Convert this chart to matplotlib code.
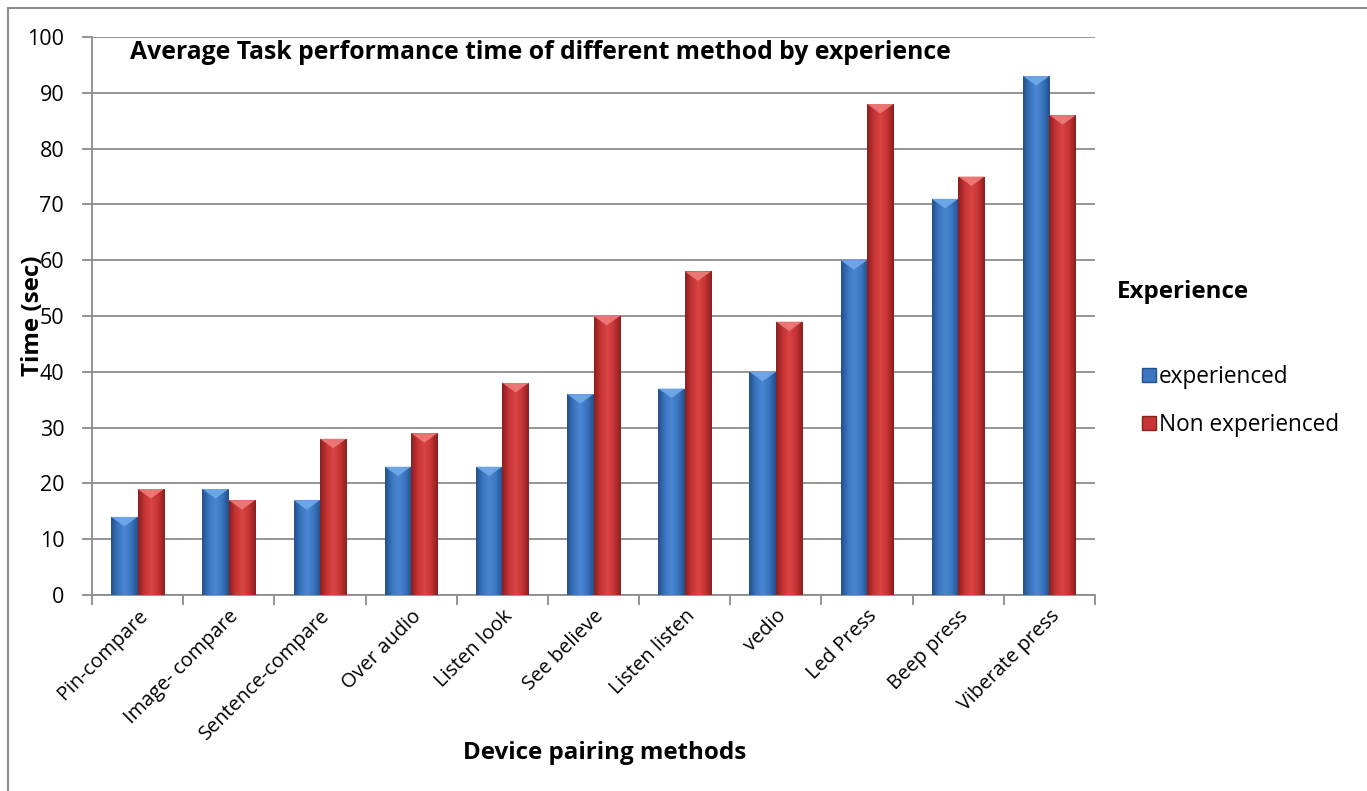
import matplotlib
matplotlib.use("Agg")
import matplotlib.pyplot as plt
import matplotlib.patches as mpatches
from matplotlib.lines import Line2D
from matplotlib.colors import LinearSegmentedColormap
import numpy as np

# data
methods = ["Pin-compare", "Image- compare", "Sentence-compare", "Over audio",
           "Listen look", "See believe", "Listen listen", "vedio",
           "Led Press", "Beep press", "Viberate press"]
experienced = [14, 19, 17, 23, 23, 36, 37, 40, 60, 71, 93]
non_experienced = [19, 17, 28, 29, 38, 50, 58, 49, 88, 75, 86]

BLUE_CM = LinearSegmentedColormap.from_list(
    "b", ["#22508c", "#3b75c0", "#4a86d2", "#3b75c0", "#22508c"])
RED_CM = LinearSegmentedColormap.from_list(
    "r", ["#8a2020", "#c73434", "#d94444", "#c73434", "#8a2020"])
BLUE_TOP = "#72aaea"
RED_TOP = "#ee7c7c"
GRID = "#8c8c8c"
FONT = "Open Sans"

fig = plt.figure(figsize=(13.67, 7.91), dpi=100)
ax = fig.add_axes([92 / 1367, 1 - 595 / 791, (1095 - 92) / 1367, (595 - 37) / 791])

x = np.arange(len(methods))
w = 0.29
grad = np.linspace(0, 1, 64).reshape(1, -1)


def gradient_bars(xs, vals, cmap, top_col):
    bars = ax.bar(xs, vals, width=w, color="none", zorder=3)
    for b in bars:
        x0, y0 = b.get_x(), b.get_y()
        bw, bh = b.get_width(), b.get_height()
        im = ax.imshow(grad, cmap=cmap, aspect="auto", zorder=3,
                       extent=(x0, x0 + bw, y0, y0 + bh), interpolation="bicubic")
        im.set_clip_path(b)
        # bevel on top of the bar
        bev = 1.7
        tri = mpatches.Polygon([(x0, y0 + bh), (x0 + bw, y0 + bh),
                                (x0 + bw * 0.5, y0 + bh - bev)],
                               closed=True, facecolor=top_col, edgecolor="none",
                               zorder=4, alpha=0.9)
        ax.add_patch(tri)
    return bars


gradient_bars(x - w / 2, experienced, BLUE_CM, BLUE_TOP)
gradient_bars(x + w / 2, non_experienced, RED_CM, RED_TOP)

ax.set_xlim(-0.5, len(methods) - 0.5)
ax.set_ylim(0, 100)
ax.set_yticks(np.arange(0, 101, 10))
ax.set_yticklabels([str(v) for v in range(0, 101, 10)], family=FONT)
ax.yaxis.grid(True, color=GRID, linewidth=1.3, zorder=0)
ax.set_axisbelow(True)

ax.set_xticks(x)
ax.set_xticklabels(methods, rotation=45, ha="right", rotation_mode="anchor",
                   fontsize=14.4, family=FONT)
ax.set_xticks(np.arange(-0.5, len(methods)), minor=True)
ax.tick_params(axis="x", which="major", length=0, pad=8)
ax.tick_params(axis="x", which="minor", length=7, color=GRID, width=1.3)
ax.tick_params(axis="y", length=7, color=GRID, width=1.3, labelsize=15.5, pad=13)

for s in ["top", "right"]:
    ax.spines[s].set_visible(False)
for s in ["left", "bottom"]:
    ax.spines[s].set_color(GRID)
    ax.spines[s].set_linewidth(1.3)

ax.text(0.038, 0.973, "Average Task performance time of different method by experience",
        transform=ax.transAxes, fontsize=17.8, fontweight="bold", family=FONT,
        va="center", ha="left")

ax.set_xlabel("Device pairing methods", fontsize=17.4, fontweight="bold", family=FONT,
              labelpad=0)
ax.xaxis.set_label_coords(0.511, -0.262)
ax.set_ylabel("Time (sec)", fontsize=17.4, fontweight="bold", family=FONT)
ax.yaxis.set_label_coords(-0.047, 0.5)

# legend
fig.text(1117 / 1367, 1 - 292 / 791, "Experience", fontsize=17.4, fontweight="bold",
         family=FONT, va="center")
handles = [mpatches.Patch(facecolor="#3b75c0", edgecolor="#22508c", label="experienced"),
           mpatches.Patch(facecolor="#c73434", edgecolor="#8a2020", label="Non experienced")]
fig.legend(handles=handles, loc="center left", bbox_to_anchor=(1142 / 1367, 1 - 401 / 791),
           frameon=False, prop={"family": FONT, "size": 16.3}, handlelength=0.6,
           handleheight=0.6, handletextpad=0.15, labelspacing=1.05,
           borderpad=0, borderaxespad=0)

# outer frame
fig.add_artist(Line2D([8 / 1367, 1], [1 - 8 / 791, 1 - 8 / 791], color=GRID, lw=1.5,
                      transform=fig.transFigure))
fig.add_artist(Line2D([8 / 1367, 8 / 1367], [0, 1 - 8 / 791], color=GRID, lw=1.5,
                      transform=fig.transFigure))

fig.savefig("out.png", dpi=100, facecolor="white")
